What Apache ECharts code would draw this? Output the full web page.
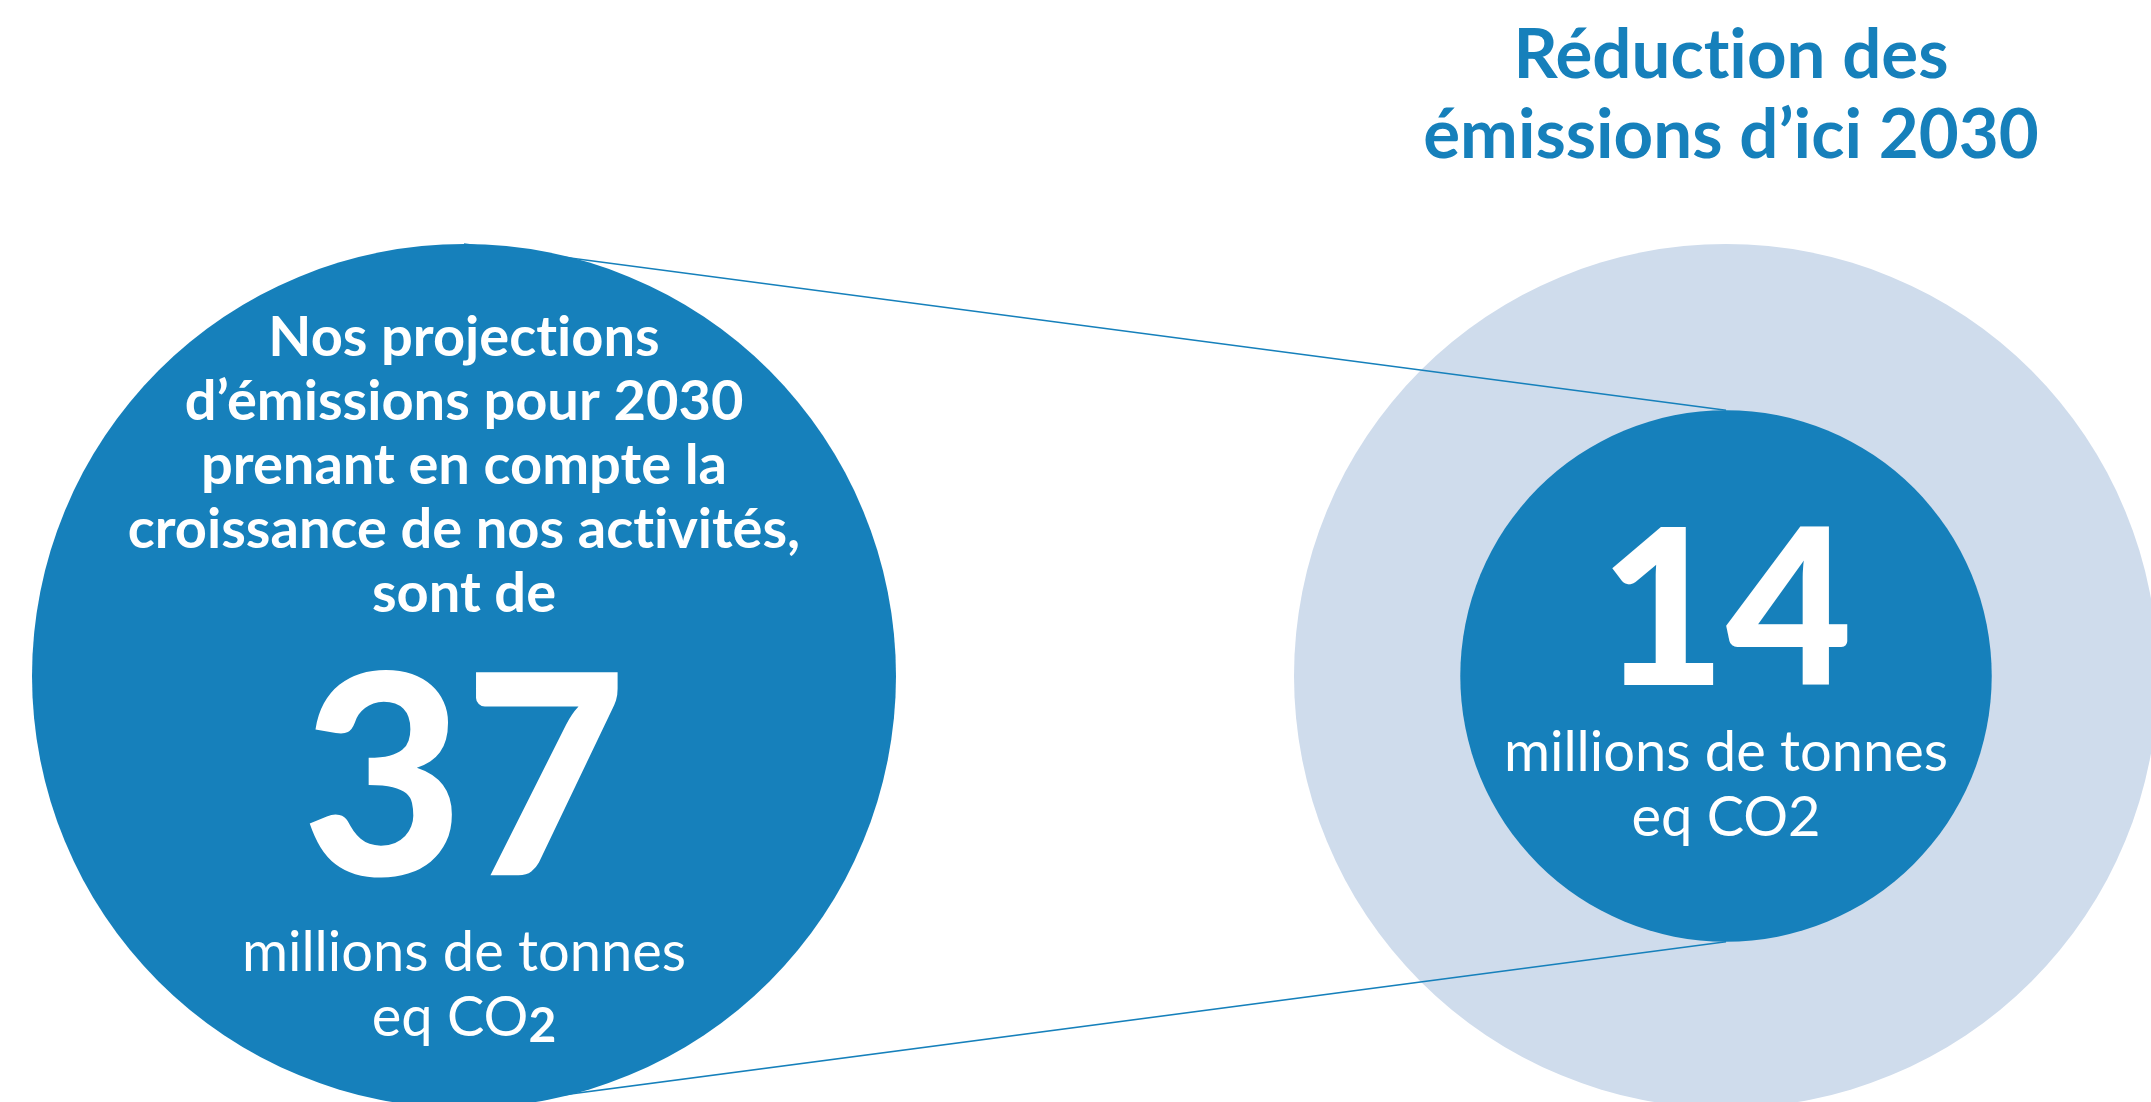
<!DOCTYPE html>
<html>
<head>
<meta charset="utf-8">
<title>Réduction des émissions d'ici 2030</title>
<script src="https://cdn.jsdelivr.net/npm/echarts@6/dist/echarts.min.js"></script>
<style>
  html, body { margin: 0; padding: 0; background: #ffffff; }
  #chart { width: 2151px; height: 1102px; }
</style>
</head>
<body>
<div id="chart"></div>
<script>
// données
const categories = ['Projections 2030', 'Objectif 2030'];
const rowName = ['CO2'];
const darkValues = [37, 14];     // millions de tonnes eq CO2
const ghostValues = [null, 37];  // rappel de la projection derrière l'objectif
const unitLabel = 'millions de tonnes';
const headline = ['Nos projections', 'd’émissions pour 2030', 'prenant en compte la', 'croissance de nos activités,', 'sont de'];
const titleLines = ['Réduction des', 'émissions d’ici 2030'];

const darkBlue = '#1680bb';
const lightBlue = '#cfdcec';
const maxValue = Math.max(...darkValues);
const maxDiameter = 864;

// surface proportionnelle à la valeur
function diameter(v) {
  return maxDiameter * Math.sqrt(v / maxValue);
}

// Lato fait une ligature "ti" : on la casse avec un antiliant (ZWNJ)
function noLig(s) {
  return s.replace(/ti/g, 't\u200Ci');
}

const myChart = echarts.init(document.getElementById('chart'));

const option = {
  backgroundColor: '#ffffff',
  animation: false,
  title: {
    text: titleLines.map(noLig).join('\n'),
    left: 1726,
    top: 11,
    textAlign: 'center',
    textStyle: {
      fontFamily: 'Lato',
      fontWeight: 'bold',
      fontSize: 69,
      lineHeight: 80,
      color: darkBlue
    }
  },
  grid: { left: 464, right: 425, top: 250, bottom: 0 },
  xAxis: { type: 'category', data: categories, boundaryGap: false, show: false },
  yAxis: { type: 'category', data: rowName, show: false },
  series: [
    {
      type: 'scatter',
      z: 1,
      clip: false,
      silent: true,
      symbolSize: (val) => diameter(val[2]),
      itemStyle: { color: lightBlue, opacity: 1 },
      data: ghostValues.map((v, i) => v == null ? null : [categories[i], rowName[0], v]).filter(d => d)
    },
    {
      type: 'custom',
      z: 2,
      clip: false,
      silent: true,
      data: [[categories[0], rowName[0]]],
      renderItem: function (params, api) {
        const a = api.coord([0, 0]);
        const b = api.coord([1, 0]);
        const rA = diameter(darkValues[0]) / 2;
        const rB = diameter(darkValues[1]) / 2;
        const style = { stroke: darkBlue, lineWidth: 1.6 };
        return {
          type: 'group',
          children: [
            { type: 'line', shape: { x1: a[0], y1: a[1] - rA, x2: b[0], y2: b[1] - rB }, style: style },
            { type: 'line', shape: { x1: a[0], y1: a[1] + rA, x2: b[0], y2: b[1] + rB }, style: style }
          ]
        };
      }
    },
    {
      type: 'scatter',
      z: 3,
      clip: false,
      silent: true,
      symbolSize: (val) => diameter(val[2]),
      itemStyle: { color: darkBlue, opacity: 1 },
      data: [
        {
          value: [categories[0], rowName[0], darkValues[0]],
          label: {
            show: true,
            position: 'inside',
            offset: [0, 14],
            formatter: (p) => headline.map(t => '{h|' + noLig(t) + '}').join('\n') +
              '\n{n|' + p.value[2] + '}\n{u1|' + unitLabel + '}\n{u2|eq CO}{s|2}',
            rich: {
              h: { fontFamily: 'Lato', fontWeight: 'bold', fontSize: 56, lineHeight: 64, color: '#fff', align: 'center' },
              n: { fontFamily: 'Lato', fontWeight: 900, fontSize: 280, lineHeight: 318, color: '#fff', align: 'center' },
              u1: { fontFamily: 'Lato', fontWeight: 'normal', fontSize: 56, lineHeight: 17, color: '#fff', align: 'center' },
              u2: { fontFamily: 'Lato', fontWeight: 'normal', fontSize: 56, lineHeight: 113, color: '#fff', align: 'center' },
              s: { fontFamily: 'Lato', fontWeight: 'bold', fontSize: 48, lineHeight: 40, padding: [18, 0, 0, 0], color: '#fff' }
            }
          }
        },
        {
          value: [categories[1], rowName[0], darkValues[1]],
          label: {
            show: true,
            position: 'inside',
            offset: [0, 4],
            formatter: (p) => '{n|' + p.value[2] + '}\n{u1|' + unitLabel + '}\n{u2|eq CO2}',
            rich: {
              n: { fontFamily: 'Lato', fontWeight: 900, fontSize: 218, lineHeight: 240, color: '#fff', align: 'center' },
              u1: { fontFamily: 'Lato', fontWeight: 'normal', fontSize: 56, lineHeight: 36, color: '#fff', align: 'center' },
              u2: { fontFamily: 'Lato', fontWeight: 'normal', fontSize: 56, lineHeight: 94, color: '#fff', align: 'center' }
            }
          }
        }
      ]
    }
  ]
};

myChart.setOption(option);
window.addEventListener('resize', () => {
  myChart.resize();
});
</script>
</body>
</html>
